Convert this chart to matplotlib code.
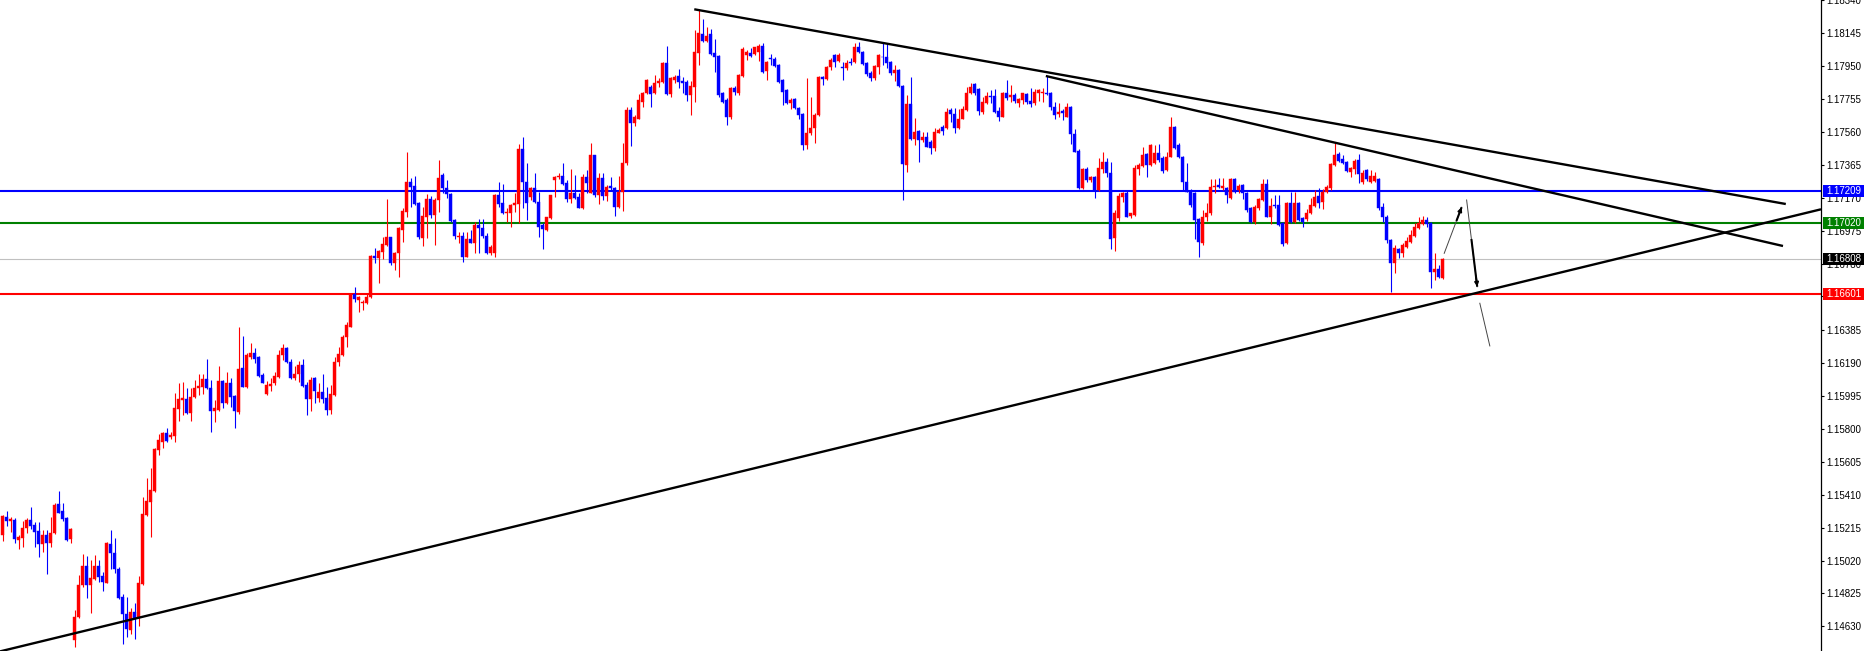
import numpy as np
import matplotlib
matplotlib.use('Agg')
import matplotlib.pyplot as plt
from matplotlib.patches import Rectangle
from matplotlib.transforms import blended_transform_factory

plt.rcParams['font.family'] = ['Liberation Sans', 'DejaVu Sans']

# ---------------- candle data (EURUSD-like, price) ----------------
opens = [
1.15171, 1.15276, 1.15256, 1.15260, 1.15141, 1.15151, 1.15210, 1.15260, 1.15228, 1.15195,
1.15116, 1.15171, 1.15122, 1.15181, 1.15355, 1.15313, 1.15270, 1.15145, 1.14548, 1.14683,
1.14875, 1.14987, 1.14875, 1.14908, 1.14987, 1.14928, 1.14888, 1.15118, 1.15062, 1.14967,
1.14805, 1.14703, 1.14608, 1.14716, 1.14677, 1.14880, 1.15289, 1.15368, 1.15434, 1.15675,
1.15724, 1.15774, 1.15754, 1.15758, 1.15918, 1.15971, 1.15977, 1.15892, 1.15987, 1.16040,
1.16046, 1.16096, 1.16040, 1.15908, 1.15912, 1.16084, 1.15951, 1.16074, 1.15995, 1.15902,
1.16159, 1.16050, 1.16224, 1.16248, 1.16228, 1.16119, 1.16005, 1.16056, 1.16070, 1.16109,
1.16238, 1.16277, 1.16198, 1.16100, 1.16125, 1.16179, 1.16060, 1.15975, 1.16100, 1.15985,
1.16021, 1.15981, 1.15912, 1.16001, 1.16198, 1.16238, 1.16347, 1.16406, 1.16600, 1.16564,
1.16544, 1.16548, 1.16580, 1.16827, 1.16811, 1.16850, 1.16890, 1.16935, 1.16785, 1.16841,
1.16979, 1.17088, 1.17261, 1.17240, 1.17137, 1.16930, 1.17058, 1.17161, 1.17068, 1.17157,
1.17305, 1.17230, 1.17192, 1.17038, 1.16935, 1.16943, 1.16821, 1.16926, 1.16904, 1.17009,
1.16993, 1.16943, 1.16844, 1.16840, 1.17186, 1.17137, 1.17081, 1.17081, 1.17127, 1.17133,
1.17457, 1.17265, 1.17172, 1.17226, 1.17147, 1.17008, 1.16979, 1.17048, 1.17275, 1.17291,
1.17299, 1.17255, 1.17160, 1.17196, 1.17176, 1.17107, 1.17295, 1.17200, 1.17423, 1.17186,
1.17285, 1.17180, 1.17239, 1.17226, 1.17113, 1.17206, 1.17374, 1.17690, 1.17615, 1.17640,
1.17739, 1.17789, 1.17824, 1.17789, 1.17848, 1.17858, 1.17971, 1.17785, 1.17868, 1.17892,
1.17862, 1.17858, 1.17779, 1.17828, 1.18030, 1.18138, 1.18101, 1.18138, 1.18026, 1.18010,
1.17789, 1.17749, 1.17646, 1.17822, 1.17789, 1.17891, 1.18016, 1.18026, 1.18022, 1.18036,
1.18069, 1.17923, 1.18000, 1.17990, 1.17955, 1.17868, 1.17808, 1.17729, 1.17753, 1.17700,
1.17666, 1.17482, 1.17552, 1.17581, 1.17660, 1.17884, 1.17874, 1.17943, 1.18016, 1.17982,
1.17947, 1.17937, 1.17977, 1.17977, 1.18065, 1.18036, 1.17971, 1.17911, 1.17878, 1.17947,
1.18006, 1.18002, 1.17973, 1.17911, 1.17927, 1.17832, 1.17364, 1.17725, 1.17516, 1.17565,
1.17512, 1.17532, 1.17502, 1.17463, 1.17555, 1.17591, 1.17581, 1.17690, 1.17666, 1.17581,
1.17637, 1.17690, 1.17793, 1.17842, 1.17813, 1.17680, 1.17730, 1.17773, 1.17773, 1.17686,
1.17651, 1.17789, 1.17769, 1.17779, 1.17730, 1.17750, 1.17785, 1.17746, 1.17730, 1.17789,
1.17789, 1.17793, 1.17793, 1.17710, 1.17667, 1.17686, 1.17651, 1.17710, 1.17548, 1.17449,
1.17226, 1.17339, 1.17275, 1.17291, 1.17216, 1.17339, 1.17384, 1.17319, 1.16930, 1.17048,
1.17177, 1.17196, 1.17062, 1.17068, 1.17339, 1.17358, 1.17430, 1.17364, 1.17374, 1.17437,
1.17404, 1.17335, 1.17410, 1.17588, 1.17483, 1.17414, 1.17265, 1.17206, 1.17200, 1.17042,
1.16900, 1.17054, 1.17078, 1.17232, 1.17246, 1.17226, 1.17226, 1.17166, 1.17279, 1.17216,
1.17246, 1.17196, 1.17107, 1.17028, 1.17107, 1.17157, 1.17251, 1.17058, 1.17127, 1.17127,
1.17018, 1.16900, 1.17141, 1.17028, 1.17137, 1.17048, 1.17042, 1.17078, 1.17121, 1.17180,
1.17147, 1.17206, 1.17226, 1.17364, 1.17429, 1.17398, 1.17384, 1.17325, 1.17339, 1.17394,
1.17265, 1.17334, 1.17265, 1.17271, 1.17279, 1.17117, 1.17058, 1.16920, 1.16785, 1.16864,
1.16840, 1.16880, 1.16910, 1.16943, 1.16989, 1.17014, 1.17038, 1.17022, 1.16732, 1.16746, 1.16692]

highs = [
1.15290, 1.15313, 1.15280, 1.15270, 1.15171, 1.15254, 1.15270, 1.15335, 1.15250, 1.15250,
1.15201, 1.15201, 1.15276, 1.15363, 1.15432, 1.15363, 1.15280, 1.15210, 1.14726, 1.14934,
1.15058, 1.15046, 1.15023, 1.15052, 1.15023, 1.14954, 1.15131, 1.15201, 1.15151, 1.14983,
1.14819, 1.14805, 1.14736, 1.14766, 1.14928, 1.15398, 1.15507, 1.15566, 1.15685, 1.15770,
1.15780, 1.15807, 1.15783, 1.16011, 1.16070, 1.16080, 1.16040, 1.16040, 1.16090, 1.16125,
1.16125, 1.16212, 1.16090, 1.15971, 1.16173, 1.16090, 1.16139, 1.16100, 1.16001, 1.16406,
1.16351, 1.16248, 1.16311, 1.16277, 1.16232, 1.16133, 1.16086, 1.16100, 1.16139, 1.16268,
1.16301, 1.16287, 1.16212, 1.16173, 1.16204, 1.16212, 1.16080, 1.16109, 1.16109, 1.16070,
1.16125, 1.16050, 1.16060, 1.16224, 1.16287, 1.16357, 1.16436, 1.16604, 1.16639, 1.16588,
1.16564, 1.16600, 1.16831, 1.16870, 1.16860, 1.16939, 1.17163, 1.16939, 1.16850, 1.16999,
1.17107, 1.17443, 1.17285, 1.17299, 1.17147, 1.17117, 1.17192, 1.17180, 1.17167, 1.17394,
1.17315, 1.17275, 1.17196, 1.17042, 1.16969, 1.16969, 1.16969, 1.16979, 1.17028, 1.17042,
1.17042, 1.16959, 1.16890, 1.17190, 1.17265, 1.17251, 1.17107, 1.17133, 1.17196, 1.17488,
1.17532, 1.17374, 1.17236, 1.17315, 1.17206, 1.17022, 1.17058, 1.17186, 1.17299, 1.17318,
1.17374, 1.17275, 1.17338, 1.17305, 1.17200, 1.17311, 1.17334, 1.17496, 1.17423, 1.17318,
1.17315, 1.17245, 1.17295, 1.17235, 1.17299, 1.17496, 1.17706, 1.17706, 1.17660, 1.17785,
1.17799, 1.17872, 1.17838, 1.17897, 1.17878, 1.17977, 1.18069, 1.17884, 1.17897, 1.17931,
1.17884, 1.17868, 1.17864, 1.18164, 1.18287, 1.18227, 1.18184, 1.18168, 1.18109, 1.18016,
1.17799, 1.17759, 1.17824, 1.17832, 1.17903, 1.18061, 1.18046, 1.18055, 1.18065, 1.18081,
1.18089, 1.17982, 1.18022, 1.18002, 1.17963, 1.17872, 1.17812, 1.17759, 1.17759, 1.17706,
1.17670, 1.17878, 1.17769, 1.17670, 1.17892, 1.17892, 1.17951, 1.17996, 1.18022, 1.18026,
1.17977, 1.17986, 1.17996, 1.18085, 1.18095, 1.18042, 1.17977, 1.17923, 1.17957, 1.18020,
1.18089, 1.18085, 1.17980, 1.17957, 1.17931, 1.17838, 1.17779, 1.17888, 1.17641, 1.17571,
1.17561, 1.17561, 1.17512, 1.17581, 1.17581, 1.17601, 1.17700, 1.17700, 1.17700, 1.17694,
1.17714, 1.17828, 1.17848, 1.17848, 1.17819, 1.17769, 1.17799, 1.17809, 1.17813, 1.17710,
1.17799, 1.17868, 1.17839, 1.17789, 1.17759, 1.17793, 1.17793, 1.17819, 1.17813, 1.17815,
1.17819, 1.17892, 1.17799, 1.17740, 1.17730, 1.17694, 1.17734, 1.17714, 1.17576, 1.17457,
1.17345, 1.17350, 1.17299, 1.17299, 1.17404, 1.17443, 1.17404, 1.17384, 1.17098, 1.17196,
1.17206, 1.17216, 1.17082, 1.17364, 1.17378, 1.17473, 1.17433, 1.17489, 1.17483, 1.17489,
1.17418, 1.17443, 1.17651, 1.17595, 1.17493, 1.17418, 1.17374, 1.17220, 1.17206, 1.17048,
1.17098, 1.17137, 1.17279, 1.17279, 1.17285, 1.17285, 1.17236, 1.17285, 1.17285, 1.17251,
1.17251, 1.17206, 1.17117, 1.17127, 1.17167, 1.17279, 1.17279, 1.17167, 1.17186, 1.17186,
1.17028, 1.17147, 1.17206, 1.17206, 1.17147, 1.17054, 1.17101, 1.17167, 1.17216, 1.17226,
1.17220, 1.17246, 1.17374, 1.17493, 1.17443, 1.17423, 1.17390, 1.17354, 1.17398, 1.17429,
1.17334, 1.17338, 1.17334, 1.17325, 1.17285, 1.17137, 1.17068, 1.16924, 1.16890, 1.16870,
1.16900, 1.16939, 1.16979, 1.17018, 1.17058, 1.17062, 1.17054, 1.17028, 1.16844, 1.16771, 1.16811]

lows = [
1.15137, 1.15226, 1.15191, 1.15122, 1.15086, 1.15102, 1.15181, 1.15205, 1.15102, 1.15042,
1.15072, 1.14938, 1.15098, 1.15177, 1.15299, 1.15254, 1.15137, 1.15126, 1.14509, 1.14677,
1.14861, 1.14795, 1.14707, 1.14904, 1.14894, 1.14839, 1.14884, 1.14967, 1.14944, 1.14790,
1.14523, 1.14568, 1.14582, 1.14552, 1.14631, 1.14875, 1.15284, 1.15161, 1.15428, 1.15645,
1.15685, 1.15724, 1.15738, 1.15724, 1.15849, 1.15882, 1.15886, 1.15849, 1.15981, 1.16001,
1.16007, 1.16034, 1.15783, 1.15843, 1.15908, 1.15926, 1.15947, 1.15928, 1.15807, 1.15886,
1.16050, 1.16040, 1.16212, 1.16189, 1.16109, 1.16070, 1.16001, 1.16027, 1.16060, 1.16100,
1.16208, 1.16189, 1.16094, 1.16090, 1.16080, 1.16050, 1.15882, 1.15908, 1.15951, 1.15961,
1.15955, 1.15882, 1.15888, 1.15995, 1.16173, 1.16232, 1.16287, 1.16402, 1.16554, 1.16495,
1.16505, 1.16540, 1.16574, 1.16785, 1.16663, 1.16805, 1.16884, 1.16771, 1.16742, 1.16702,
1.16910, 1.17058, 1.17113, 1.17127, 1.16924, 1.16884, 1.16930, 1.17048, 1.16890, 1.17088,
1.17200, 1.17167, 1.17028, 1.16924, 1.16900, 1.16791, 1.16817, 1.16900, 1.16845, 1.16845,
1.16930, 1.16837, 1.16830, 1.16820, 1.17117, 1.17073, 1.17028, 1.16998, 1.17087, 1.17022,
1.17107, 1.17038, 1.17157, 1.17137, 1.16939, 1.16864, 1.16975, 1.17042, 1.17172, 1.17279,
1.17245, 1.17147, 1.17141, 1.17160, 1.17107, 1.17101, 1.17196, 1.17196, 1.17176, 1.17133,
1.17156, 1.17153, 1.17212, 1.17062, 1.17107, 1.17093, 1.17364, 1.17477, 1.17595, 1.17635,
1.17706, 1.17785, 1.17706, 1.17785, 1.17824, 1.17852, 1.17779, 1.17769, 1.17848, 1.17818,
1.17789, 1.17745, 1.17660, 1.17739, 1.17957, 1.18095, 1.18095, 1.18016, 1.17917, 1.17769,
1.17729, 1.17601, 1.17640, 1.17779, 1.17779, 1.17887, 1.17986, 1.18006, 1.18016, 1.17982,
1.17911, 1.17868, 1.17957, 1.17947, 1.17852, 1.17720, 1.17725, 1.17694, 1.17694, 1.17640,
1.17453, 1.17457, 1.17542, 1.17496, 1.17654, 1.17838, 1.17868, 1.17927, 1.17947, 1.17977,
1.17868, 1.17927, 1.17957, 1.17971, 1.18026, 1.17957, 1.17891, 1.17864, 1.17868, 1.17903,
1.17957, 1.17937, 1.17897, 1.17864, 1.17824, 1.17156, 1.17324, 1.17512, 1.17482, 1.17384,
1.17502, 1.17469, 1.17429, 1.17449, 1.17552, 1.17542, 1.17575, 1.17621, 1.17552, 1.17575,
1.17635, 1.17686, 1.17783, 1.17779, 1.17661, 1.17667, 1.17724, 1.17734, 1.17671, 1.17627,
1.17647, 1.17750, 1.17740, 1.17734, 1.17710, 1.17726, 1.17726, 1.17710, 1.17720, 1.17746,
1.17740, 1.17779, 1.17690, 1.17635, 1.17651, 1.17631, 1.17647, 1.17489, 1.17443, 1.17220,
1.17220, 1.17265, 1.17265, 1.17167, 1.17212, 1.17315, 1.17291, 1.16864, 1.16856, 1.17034,
1.17147, 1.17054, 1.17048, 1.17062, 1.17305, 1.17354, 1.17295, 1.17358, 1.17370, 1.17384,
1.17319, 1.17331, 1.17410, 1.17457, 1.17404, 1.17216, 1.17206, 1.17117, 1.16924, 1.16821,
1.16890, 1.17034, 1.17068, 1.17196, 1.17226, 1.17216, 1.17137, 1.17161, 1.17200, 1.17196,
1.17161, 1.17087, 1.17022, 1.17014, 1.17097, 1.17153, 1.17054, 1.17014, 1.17107, 1.17003,
1.16884, 1.16896, 1.17022, 1.17022, 1.17034, 1.16995, 1.17034, 1.17074, 1.17117, 1.17107,
1.17101, 1.17196, 1.17216, 1.17358, 1.17384, 1.17370, 1.17325, 1.17291, 1.17311, 1.17259,
1.17251, 1.17271, 1.17259, 1.17265, 1.17097, 1.17028, 1.16900, 1.16613, 1.16726, 1.16811,
1.16821, 1.16870, 1.16900, 1.16939, 1.16983, 1.17008, 1.16999, 1.16633, 1.16682, 1.16692, 1.16686]

closes = [
1.15284, 1.15256, 1.15266, 1.15145, 1.15157, 1.15210, 1.15260, 1.15224, 1.15191, 1.15116,
1.15171, 1.15122, 1.15181, 1.15349, 1.15303, 1.15266, 1.15141, 1.15207, 1.14687, 1.14875,
1.14987, 1.14875, 1.14914, 1.14987, 1.14924, 1.14894, 1.15126, 1.15062, 1.14967, 1.14799,
1.14703, 1.14612, 1.14716, 1.14677, 1.14884, 1.15295, 1.15374, 1.15438, 1.15679, 1.15734,
1.15774, 1.15728, 1.15764, 1.15922, 1.15977, 1.15985, 1.15892, 1.15991, 1.16044, 1.16054,
1.16096, 1.16040, 1.15908, 1.15926, 1.16084, 1.15951, 1.16074, 1.15991, 1.15906, 1.16155,
1.16050, 1.16238, 1.16248, 1.16212, 1.16113, 1.16074, 1.16060, 1.16066, 1.16113, 1.16238,
1.16277, 1.16198, 1.16100, 1.16125, 1.16179, 1.16054, 1.15975, 1.16090, 1.16027, 1.16021,
1.15975, 1.15912, 1.16005, 1.16198, 1.16242, 1.16347, 1.16416, 1.16600, 1.16568, 1.16580,
1.16554, 1.16584, 1.16827, 1.16811, 1.16854, 1.16896, 1.16935, 1.16785, 1.16845, 1.16989,
1.17094, 1.17261, 1.17236, 1.17133, 1.16935, 1.17062, 1.17161, 1.17068, 1.17157, 1.17285,
1.17226, 1.17192, 1.17034, 1.16943, 1.16943, 1.16821, 1.16924, 1.16904, 1.17009, 1.16989,
1.16943, 1.16845, 1.16880, 1.17186, 1.17133, 1.17077, 1.17087, 1.17127, 1.17137, 1.17457,
1.17265, 1.17137, 1.17226, 1.17147, 1.16998, 1.16983, 1.17054, 1.17186, 1.17295, 1.17299,
1.17251, 1.17160, 1.17196, 1.17166, 1.17107, 1.17295, 1.17255, 1.17423, 1.17186, 1.17285,
1.17180, 1.17235, 1.17226, 1.17117, 1.17206, 1.17374, 1.17690, 1.17615, 1.17650, 1.17749,
1.17793, 1.17868, 1.17785, 1.17848, 1.17862, 1.17971, 1.17785, 1.17878, 1.17888, 1.17858,
1.17852, 1.17779, 1.17832, 1.18036, 1.18144, 1.18101, 1.18131, 1.18022, 1.18006, 1.17779,
1.17739, 1.17646, 1.17818, 1.17799, 1.17897, 1.18050, 1.18036, 1.18010, 1.18061, 1.18069,
1.17917, 1.17977, 1.17990, 1.17951, 1.17858, 1.17799, 1.17733, 1.17749, 1.17700, 1.17660,
1.17482, 1.17557, 1.17585, 1.17660, 1.17888, 1.17872, 1.17947, 1.17986, 1.17977, 1.18016,
1.17937, 1.17971, 1.17967, 1.18065, 1.18036, 1.17963, 1.17903, 1.17878, 1.17951, 1.18016,
1.18002, 1.17967, 1.17911, 1.17927, 1.17832, 1.17370, 1.17725, 1.17518, 1.17561, 1.17512,
1.17532, 1.17473, 1.17463, 1.17561, 1.17571, 1.17567, 1.17680, 1.17666, 1.17581, 1.17640,
1.17694, 1.17789, 1.17829, 1.17789, 1.17686, 1.17740, 1.17773, 1.17765, 1.17680, 1.17651,
1.17789, 1.17763, 1.17779, 1.17744, 1.17754, 1.17789, 1.17740, 1.17724, 1.17799, 1.17809,
1.17799, 1.17785, 1.17710, 1.17661, 1.17680, 1.17671, 1.17710, 1.17548, 1.17443, 1.17226,
1.17339, 1.17275, 1.17291, 1.17216, 1.17345, 1.17384, 1.17319, 1.16924, 1.17078, 1.17181,
1.17196, 1.17058, 1.17078, 1.17345, 1.17364, 1.17424, 1.17364, 1.17483, 1.17433, 1.17394,
1.17331, 1.17414, 1.17588, 1.17463, 1.17410, 1.17265, 1.17206, 1.17127, 1.17038, 1.16910,
1.17058, 1.17078, 1.17236, 1.17240, 1.17232, 1.17240, 1.17186, 1.17279, 1.17206, 1.17240,
1.17196, 1.17097, 1.17028, 1.17117, 1.17161, 1.17251, 1.17058, 1.17121, 1.17121, 1.17008,
1.16896, 1.17141, 1.17028, 1.17141, 1.17038, 1.17028, 1.17082, 1.17127, 1.17176, 1.17141,
1.17206, 1.17236, 1.17370, 1.17423, 1.17390, 1.17378, 1.17331, 1.17344, 1.17390, 1.17311,
1.17319, 1.17279, 1.17299, 1.17299, 1.17107, 1.17054, 1.16920, 1.16785, 1.16870, 1.16840,
1.16890, 1.16916, 1.16949, 1.16995, 1.17018, 1.17038, 1.17014, 1.16732, 1.16746, 1.16698, 1.16805]

# right-axis tick labels (as printed by the terminal)
tick_labels = ['1.18340', '1.18145', '1.17950', '1.17755', '1.17560', '1.17365',
               '1.17170', '1.16975', '1.16780', '1.16585', '1.16385', '1.16190',
               '1.15995', '1.15800', '1.15605', '1.15410', '1.15215', '1.15020',
               '1.14825', '1.14630']

# horizontal levels
level_values = [1.17209, 1.17020, 1.16808, 1.16601]
level_labels = ['1.17209', '1.17020', '1.16808', '1.16601']
level_line_colors = ['#0000FF', '#008000', '#C0C0C0', '#FF0000']
level_box_colors = ['#0000FF', '#008000', '#000000', '#FF0000']
level_widths = [1.5, 1.5, 0.8, 1.5]

# trend lines: (bar index, price) endpoints
trend_lines = [
    ((-0.675, 1.144813), (454.6, 1.171018)),   # rising support
    ((172.9, 1.182873), (445.8, 1.171332)),    # long falling resistance
    ((260.8, 1.178919), (445.1, 1.168843)),    # second falling resistance
]
# projection arrows: (bar index, price) endpoints
arrows = [
    ((360.4, 1.16841), (364.75, 1.17114)),
    ((366.0, 1.17157), (368.65, 1.16643)),
    ((369.3, 1.16545), (371.8, 1.16292)),
]

n = len(closes)
assert len(opens) == n and len(highs) == n and len(lows) == n, (len(opens), len(highs), len(lows), n)

W, H = 1864, 651
fig = plt.figure(figsize=(W / 100, H / 100), dpi=100)
fig.patch.set_facecolor('white')
axis_px = 1821
ax = fig.add_axes([0, 0, axis_px / W, 1])
ax.set_facecolor('white')

x = np.arange(n)
o = np.array(opens); c = np.array(closes); hi = np.array(highs); lo = np.array(lows)
up = c > o
cols = np.where(up, '#FF0000', '#0000FF')

ax.vlines(x, lo, hi, colors=cols, linewidth=0.8, zorder=3)
body_lo = np.minimum(o, c)
body_h = np.maximum(np.abs(c - o), 0.00003)
ax.bar(x, body_h, bottom=body_lo, width=0.7, color=cols, edgecolor=cols,
       linewidth=0.3, zorder=4)

for v, lc, lw in zip(level_values, level_line_colors, level_widths):
    ax.axhline(v, color=lc, linewidth=lw, zorder=2)

for (x0, y0), (x1, y1) in trend_lines:
    ax.plot([x0, x1], [y0, y1], color='black', linewidth=1.7, zorder=5,
            solid_capstyle='butt')

for k, ((x0, y0), (x1, y1)) in enumerate(arrows):
    ax.plot([x0, x1], [y0, y1], color='#444444', linewidth=0.7, zorder=5)
    if k == 0:
        f = 0.7
    elif k == 1:
        f = 0.45
    else:
        f = None
    if f is not None:
        xs = x0 + f * (x1 - x0); ys = y0 + f * (y1 - y0)
        ax.plot([xs, x1], [ys, y1], color='black', linewidth=1.5, zorder=6,
                solid_capstyle='butt')
        ax.annotate('', xy=(x1, y1), xytext=(x1 - 0.12 * (x1 - x0), y1 - 0.12 * (y1 - y0)),
                    arrowprops=dict(arrowstyle='-|>', color='black', lw=1.2,
                                    mutation_scale=6, shrinkA=0, shrinkB=0), zorder=7)

ymax = 1.183424
ymin = 1.144837
ax.set_xlim(-0.675, 454.6)
ax.set_ylim(ymin, ymax)

ax.set_xticks([])
ax.yaxis.tick_right()
ax.set_yticks([float(t) for t in tick_labels])
ax.set_yticklabels(tick_labels)
ax.tick_params(axis='y', direction='out', length=2.5, width=0.8, pad=1.5,
               labelsize=7, colors='black')
for s in ['left', 'top', 'bottom']:
    ax.spines[s].set_visible(False)
ax.spines['right'].set_color('black')
ax.spines['right'].set_linewidth(0.9)

px_per_price = H / (ymax - ymin)
trans = blended_transform_factory(ax.transAxes, ax.transData)
box_h = 12 / px_per_price
box_w = (W - axis_px) / axis_px
for v, lab, bc in zip(level_values, level_labels, level_box_colors):
    ax.add_patch(Rectangle((1.0 + 1.5 / axis_px, v - box_h / 2), box_w, box_h,
                           transform=trans, facecolor=bc, edgecolor='none',
                           clip_on=False, zorder=8))
    ax.text(1.0 + 5 / axis_px, v, lab, transform=trans, color='white', fontsize=7,
            va='center', ha='left', zorder=9, clip_on=False)

fig.savefig('out.png', dpi=100, facecolor='white')
